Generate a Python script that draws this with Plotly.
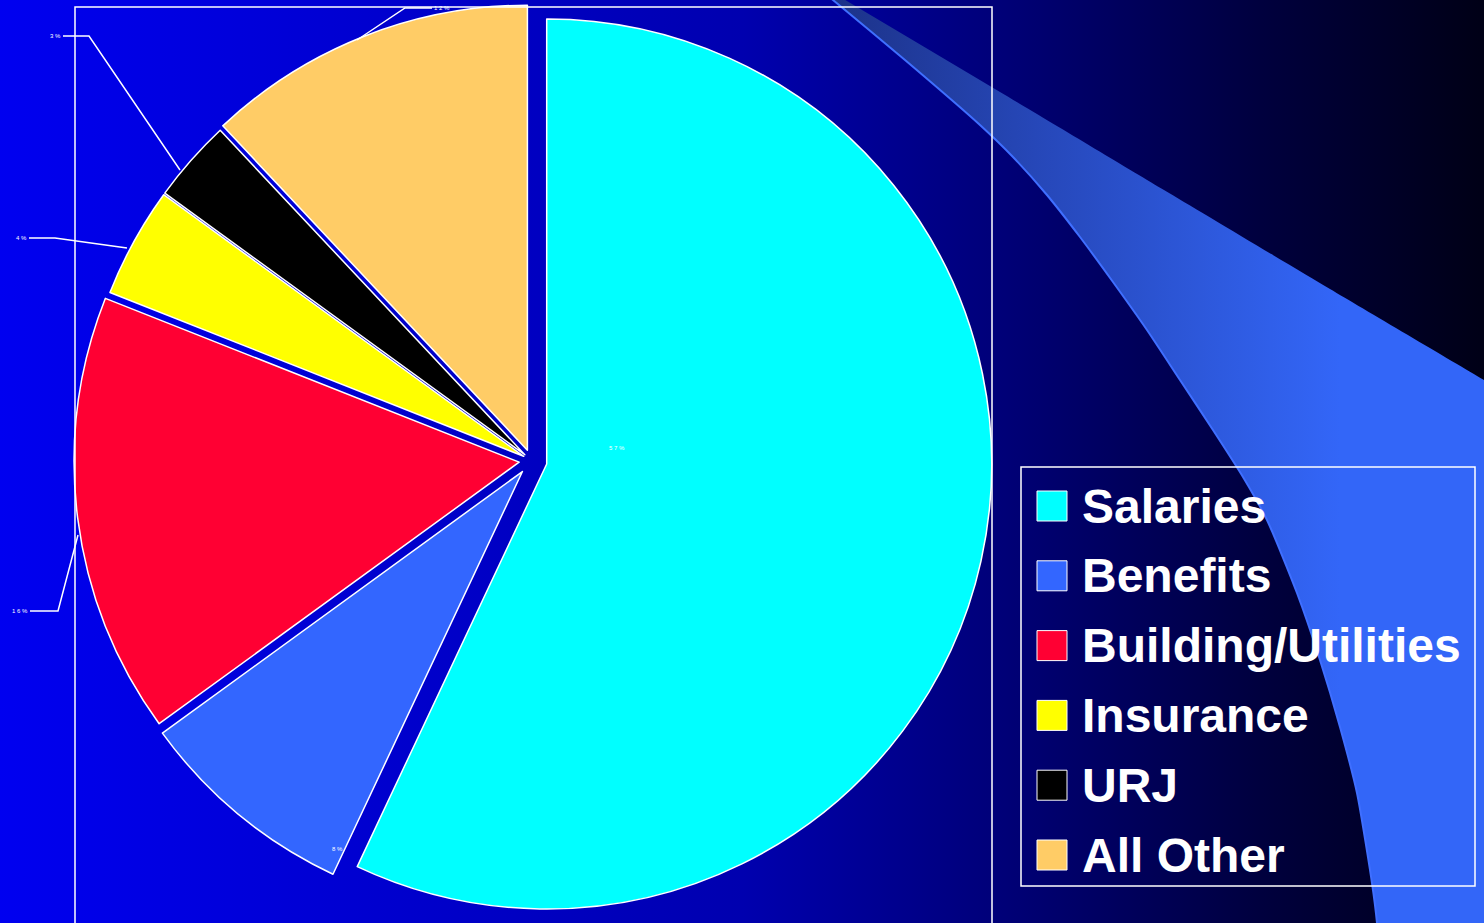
import plotly.graph_objects as go

W, H = 1484, 923

labels = ["Salaries", "Benefits", "Building/Utilities", "Insurance", "URJ", "All Other"]
shares = [57, 8, 16, 4, 3, 12]
colors = ["#00FFFF", "#3366FF", "#FF0033", "#FFFF00", "#000000", "#FFCC66"]
pulls = [0.035, 0.032, 0.028, 0.02, 0.02, 0.025]

# where the little percent labels sit (px) and their leader lines
label_pos = {57: (617, 448), 8: (337, 849), 16: (20, 611), 4: (21, 238), 3: (55, 36), 12: (442, 8)}
leaders = {
    16: [(30, 611), (58, 611), (78, 535)],
    4: [(29, 238), (55, 238), (127, 248)],
    3: [(63, 36), (89, 36), (180, 170)],
    12: [(432, 8), (405, 8), (357, 40)],
}

# light blue sweep on the right side of the slide (corners pushed off-screen)
band_top = [(820, -15), (1000, 92), (1164, 190), (1330, 289), (1484, 380), (1620, 461), (1620, 1000)]
band_curve = [(1382, 1000), (1377, 923), (1372, 883), (1357, 793), (1340, 727), (1320, 660),
              (1297, 593), (1267, 520), (1243, 477), (1213, 430), (1180, 380), (1147, 330),
              (1113, 282), (1080, 237), (1047, 195), (1013, 157), (980, 125), (905, 60), (833, 0),
              (815, -15)]

fig = go.Figure()

# slide background gradient
fig.add_trace(go.Scatter(
    x=[0, W, W, 0, 0], y=[0, 0, H, H, 0], mode="lines", fill="toself",
    line=dict(width=0), hoverinfo="skip", showlegend=False,
    fillgradient=dict(type="horizontal", start=0, stop=W,
                      colorscale=[[0, "rgb(0,0,240)"], [0.5, "rgb(0,0,175)"], [0.68, "rgb(0,0,118)"],
                                  [0.85, "rgb(0,0,62)"], [1, "rgb(0,0,22)"]]),
))

bx = [p[0] for p in band_top + band_curve]
by = [p[1] for p in band_top + band_curve]
fig.add_trace(go.Scatter(
    x=bx, y=by, mode="lines", fill="toself", line=dict(width=0, shape="spline", smoothing=0.6),
    hoverinfo="skip", showlegend=False,
    fillgradient=dict(type="horizontal", start=830, stop=1340,
                      colorscale=[[0, "#1c3288"], [0.4, "#2647b8"], [1, "#3366f8"]]),
))
fig.add_trace(go.Scatter(
    x=[p[0] for p in band_curve], y=[p[1] for p in band_curve],
    mode="lines", line=dict(color="#3f6fff", width=2, shape="spline", smoothing=0.6),
    hoverinfo="skip", showlegend=False,
))

fig.add_trace(go.Pie(
    labels=labels, values=shares, marker=dict(colors=colors, line=dict(color="white", width=1.5)),
    pull=pulls, sort=False, direction="clockwise", rotation=0,
    textinfo="none", showlegend=False, hoverinfo="label+percent",
    domain=dict(x=[70 / W, 993 / W], y=[0.002, 1]),
))

shapes = []
annotations = []

# frame around the chart area
shapes.append(dict(type="rect", xref="x", yref="y", x0=75, x1=992, y0=7, y1=H + 5,
                   line=dict(color="white", width=1.5), layer="above"))

for v in shares:
    x, y = label_pos[v]
    annotations.append(dict(x=x, y=y, xref="x", yref="y", text=" ".join(f"{v}%"),
                            showarrow=False, font=dict(color="white", size=6, family="Arial")))
    if v in leaders:
        pts = leaders[v]
        path = "M" + " L".join(f"{px},{py}" for px, py in pts)
        shapes.append(dict(type="path", xref="x", yref="y", path=path,
                           line=dict(color="white", width=1.5), layer="above"))

# legend drawn by hand so the swatches can be large
shapes.append(dict(type="rect", xref="x", yref="y", x0=1021, x1=1475, y0=467, y1=886,
                   line=dict(color="white", width=1.5), layer="above"))
for i, (name, col) in enumerate(zip(labels, colors)):
    yc = 506 + i * 69.8
    shapes.append(dict(type="rect", xref="x", yref="y", x0=1037, x1=1067, y0=yc - 15, y1=yc + 15,
                       fillcolor=col, line=dict(color="white", width=1), layer="above"))
    annotations.append(dict(x=1080, y=yc, xref="x", yref="y", text=f"<b>{name}</b>",
                            showarrow=False, xanchor="left", yanchor="middle",
                            font=dict(color="white", size=48, family="Liberation Sans, Arial")))

fig.update_layout(
    width=W, height=H, margin=dict(l=0, r=0, t=0, b=0),
    paper_bgcolor="#000080", plot_bgcolor="#000080",
    xaxis=dict(range=[0, W], visible=False, fixedrange=True),
    yaxis=dict(range=[H, 0], visible=False, fixedrange=True),
    shapes=shapes, annotations=annotations, showlegend=False,
)

fig.write_html("out.html", config={"displayModeBar": False},
               post_script="document.body.style.margin='0';document.body.style.overflow='hidden';")
